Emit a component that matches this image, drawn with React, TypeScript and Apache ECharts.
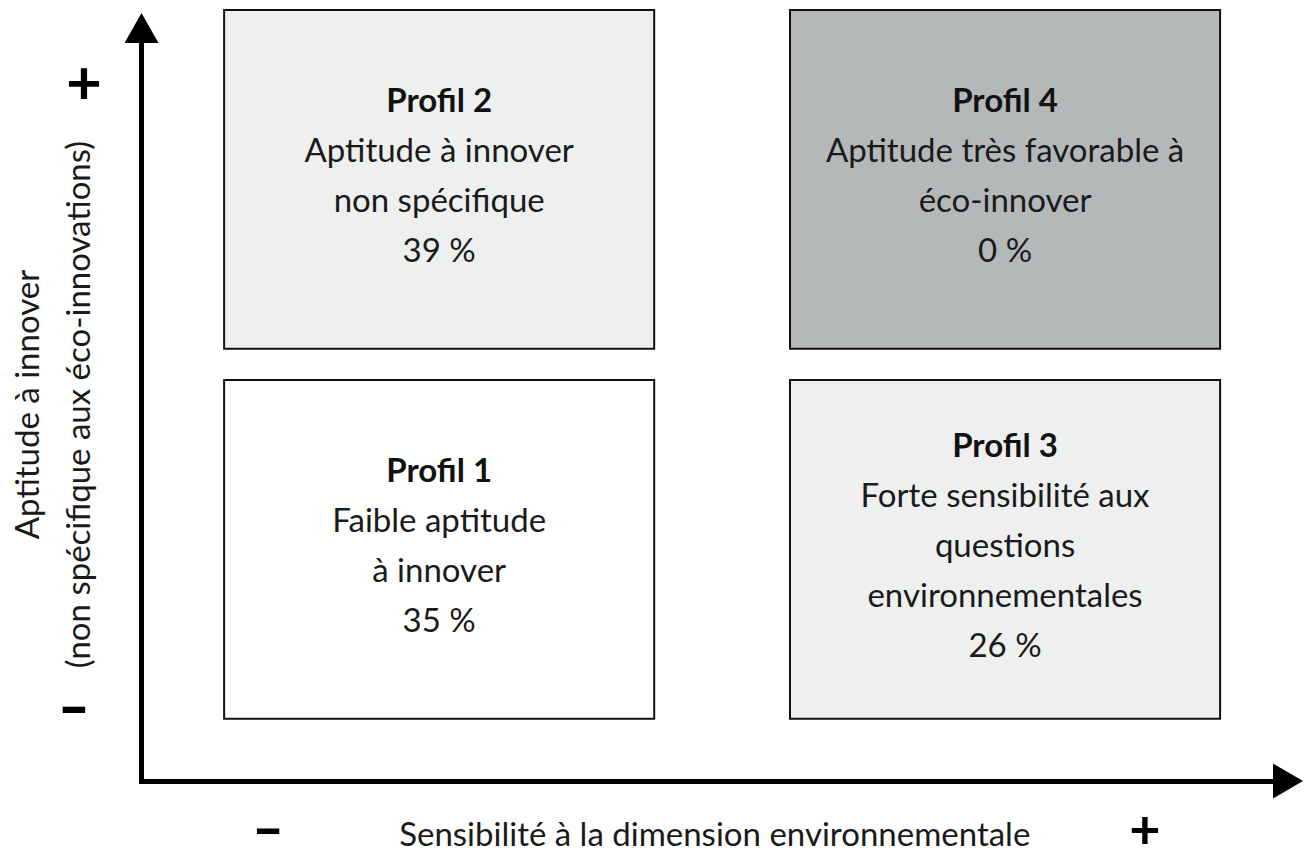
import React, { useEffect, useRef } from "react";
import * as echarts from "echarts";

// ---- Data ----
const profileNames = ["Profil 1", "Profil 2", "Profil 3", "Profil 4"];
const profileDescriptions = [
  ["Faible aptitude", "à innover"],
  ["Aptitude à innover", "non spécifique"],
  ["Forte sensibilité aux", "questions", "environnementales"],
  ["Aptitude très favorable à", "éco-innover"],
];
const profileShares = [35, 39, 26, 0];
// quadrant position: sensitivity (x: 0 = -, 1 = +), aptitude (y: 0 = -, 1 = +)
const sensitivityLevel = [0, 0, 1, 1];
const aptitudeLevel = [0, 1, 0, 1];
const xAxisTitle = "Sensibilité à la dimension environnementale";
const yAxisTitle = ["Aptitude à innover", "(non spécifique aux éco-innovations)"];
const lowLabel = "-";
const highLabel = "+";

// ---- Styles ----
const FONT = "Lato, 'Open Sans', sans-serif";
const TEXT_COLOR = "#1a1a1a";
const boxFills = ["#ffffff", "#eeefef", "#eeefef", "#b5b8b9"];

export default function App() {
  const ref = useRef<HTMLDivElement>(null);

  useEffect(() => {
    document.body.style.margin = "0";
    if (!ref.current) return;
    const chart = echarts.init(ref.current, undefined, { renderer: "svg" });

    const data = profileNames.map((name, i) => ({
      value: [sensitivityLevel[i] + 0.5, aptitudeLevel[i] + 0.5, profileShares[i], i],
      name,
    }));

    const renderItem = (params: any, api: any) => {
      const idx = api.value(3);
      const c = api.coord([api.value(0), api.value(1)]);
      const s = api.size([0.76, 0.915]);
      const lines = [
        `{b|${profileNames[idx]}}`,
        ...profileDescriptions[idx].map((t) => `{r|${t}}`),
        `{r|${api.value(2)} %}`,
      ];
      return {
        type: "group",
        children: [
          {
            type: "rect",
            shape: { x: c[0] - s[0] / 2, y: c[1] - s[1] / 2, width: s[0], height: s[1] },
            style: { fill: boxFills[idx], stroke: "#111111", lineWidth: 2 },
          },
          {
            type: "text",
            x: c[0],
            y: c[1] - 5,
            style: {
              text: lines.join("\n"),
              align: "center",
              verticalAlign: "middle",
              fill: TEXT_COLOR,
              rich: {
                b: { fontFamily: FONT, fontSize: 33, fontWeight: "bold", lineHeight: 50, fill: "#111" },
                r: { fontFamily: FONT, fontSize: 33, lineHeight: 50, fill: TEXT_COLOR },
              },
            },
          },
        ],
      };
    };

    const signStyle = (text: string, x: number, y: number, size: number, sx = 1) => ({
      type: "text",
      x,
      y,
      scaleX: sx,
      style: {
        text,
        fontFamily: FONT,
        fontSize: size,
        lineHeight: 40,
        fontWeight: "bold",
        fill: "#000",
        align: "center",
        verticalAlign: "middle",
      },
    });

    const option: any = {
      animation: false,
      backgroundColor: "#ffffff",
      grid: { left: 141.5, right: 18, top: 28, bottom: 78, outerBoundsMode: "none", containLabel: false },
      xAxis: {
        type: "value",
        min: -0.026,
        max: 2.0,
        name: xAxisTitle,
        nameLocation: "middle",
        nameGap: 35,
        nameMoveOverlap: false,
        nameTextStyle: { fontFamily: FONT, fontSize: 33, color: TEXT_COLOR },
        axisLine: {
          show: true,
          onZero: false,
          symbol: ["none", "triangle"],
          symbolSize: [35, 30],
          lineStyle: { color: "#000", width: 5, cap: "square" },
        },
        axisTick: { show: false },
        axisLabel: { show: false },
        splitLine: { show: false },
      },
      yAxis: {
        type: "value",
        min: -0.126,
        max: 1.909,
        name: yAxisTitle.join("\n"),
        nameLocation: "middle",
        nameGap: 39,
        nameRotate: 90,
        nameMoveOverlap: false,
        nameTextStyle: { fontFamily: FONT, fontSize: 33, color: TEXT_COLOR, lineHeight: 51 },
        axisLine: {
          show: true,
          onZero: false,
          symbol: ["none", "triangle"],
          symbolSize: [34, 30],
          lineStyle: { color: "#000", width: 5, cap: "square" },
        },
        axisTick: { show: false },
        axisLabel: { show: false },
        splitLine: { show: false },
      },
      graphic: [
        signStyle(highLabel, 84, 80, 62),
        signStyle(lowLabel, 74, 704, 62, 1.4),
        signStyle(lowLabel, 268, 826, 54, 1.6),
        signStyle(highLabel, 1145, 828, 54),
      ],
      series: [
        {
          type: "custom",
          renderItem,
          data,
          encode: { x: 0, y: 1 },
          silent: true,
        },
      ],
    };

    chart.setOption(option);
    return () => chart.dispose();
  }, []);

  return (
    <div
      ref={ref}
      style={{ position: "fixed", left: 0, top: 0, width: 1306, height: 859 }}
    />
  );
}
